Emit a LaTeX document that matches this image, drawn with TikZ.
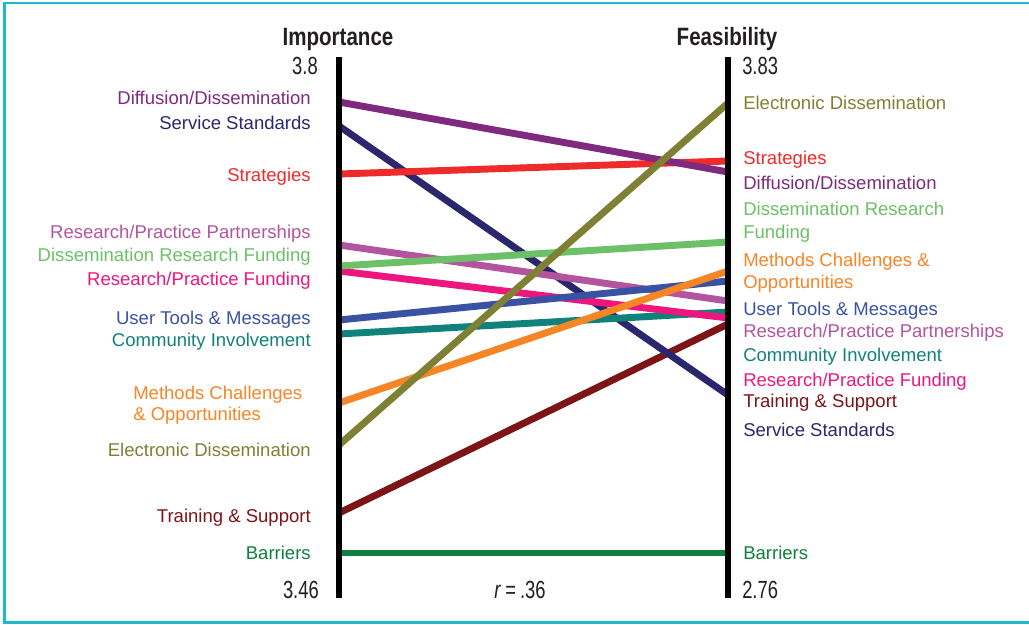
\documentclass[tikz,border=0pt]{standalone}
\usepackage{fontspec}
\setmainfont{Liberation Sans}
\newfontfamily\condfont[FakeStretch=0.82]{Liberation Sans}
\newfontfamily\numfont[FakeStretch=0.74]{Liberation Sans}
\definecolor{cDiff}{HTML}{7D2A7F}
\definecolor{cServ}{HTML}{2A276E}
\definecolor{cStrat}{HTML}{EE2B2A}
\definecolor{cRPP}{HTML}{B5549E}
\definecolor{cDRF}{HTML}{6CC067}
\definecolor{cRPF}{HTML}{ED167F}
\definecolor{cUser}{HTML}{3A52A3}
\definecolor{cComm}{HTML}{10827B}
\definecolor{cMeth}{HTML}{F68526}
\definecolor{cElec}{HTML}{7E8033}
\definecolor{cTrain}{HTML}{7D1416}
\definecolor{cBarr}{HTML}{10803F}
\definecolor{cFrame}{HTML}{1CB9D1}
\definecolor{cNum}{HTML}{231F20}
\tikzset{
  lbl/.style={inner sep=0pt, font=\fontsize{13.9}{16}\selectfont},
  lleft/.style={lbl, anchor=base east},
  lright/.style={lbl, anchor=base west},
  num/.style={inner sep=0pt, text=cNum, font=\numfont\fontsize{18.6}{20}\selectfont},
  ttl/.style={inner sep=0pt, anchor=base, text=cNum, font=\condfont\bfseries\fontsize{18.8}{22}\selectfont},
  series/.style={line width=5.2pt, line cap=butt},
  axisline/.style={line width=5.1pt, black, line cap=butt},
}
\begin{document}
\begin{tikzpicture}[x=0.75pt, y=-0.75pt]
\useasboundingbox (0,0) rectangle (1029,625);
% frame
\coordinate (fTR) at (1029,3);
\coordinate (fTL) at (4.5,3);
\coordinate (fBL) at (4.5,622.5);
\coordinate (fBR) at (1029,622.5);
\draw[cFrame, line width=1.9pt] (fTR) -- (fTL) -- (fBL) -- (fBR);

% axis ends
\coordinate (LA1) at (339,57);
\coordinate (LA2) at (339,598);
\coordinate (RA1) at (728,57);
\coordinate (RA2) at (728,598);

% series endpoints
\coordinate (LDiff) at (339,102);  \coordinate (RDiff) at (728,172);
\coordinate (LServ) at (339,126);  \coordinate (RServ) at (728,395);
\coordinate (LStrat) at (339,174); \coordinate (RStrat) at (728,161);
\coordinate (LRPP) at (339,245);   \coordinate (RRPP) at (728,301);
\coordinate (LDRF) at (339,266);   \coordinate (RDRF) at (728,242);
\coordinate (LRPF) at (339,271);   \coordinate (RRPF) at (728,318);
\coordinate (LUser) at (339,320);  \coordinate (RUser) at (728,281);
\coordinate (LComm) at (339,334);  \coordinate (RComm) at (728,312);
\coordinate (LMeth) at (339,403);  \coordinate (RMeth) at (728,271);
\coordinate (LElec) at (339,445);  \coordinate (RElec) at (728,103);
\coordinate (LTrain) at (339,513); \coordinate (RTrain) at (728,324);
\coordinate (LBarr) at (339,553);  \coordinate (RBarr) at (728,553);

\draw[series, cBarr] (LBarr) -- (RBarr);
\draw[series, cTrain] (LTrain) -- (RTrain);
\draw[series, cServ] (LServ) -- (RServ);
\draw[series, cComm] (LComm) -- (RComm);
\draw[series, cRPF] (LRPF) -- (RRPF);
\draw[series, cRPP] (LRPP) -- (RRPP);
\draw[series, cUser] (LUser) -- (RUser);
\draw[series, cDRF] (LDRF) -- (RDRF);
\draw[series, cMeth] (LMeth) -- (RMeth);
\draw[series, cStrat] (LStrat) -- (RStrat);
\draw[series, cDiff] (LDiff) -- (RDiff);
\draw[series, cElec] (LElec) -- (RElec);

% axes
\draw[axisline] (LA1) -- (LA2);
\draw[axisline] (RA1) -- (RA2);

% titles and scale values
\node[ttl] (tImp) at (338,45) {Importance};
\node[ttl] (tFea) at (727,45) {Feasibility};
\node[num, anchor=base east] (nL1) at (318,74) {3.8};
\node[num, anchor=base east] (nL2) at (319,598) {3.46};
\node[num, anchor=base west] (nR1) at (742,74) {3.83};
\node[num, anchor=base west] (nR2) at (742,598) {2.76};
\node[num, anchor=base] (rval) at (520,598) {\textit{r}\,=\,.36};

% left labels
\node[lleft, text=cDiff] (lDiff) at (311,104) {Diffusion/Dissemination};
\node[lleft, text=cServ] (lServ) at (311,129) {Service Standards};
\node[lleft, text=cStrat] (lStrat) at (311,181) {Strategies};
\node[lleft, text=cRPP] (lRPP) at (311,238) {Research/Practice Partnerships};
\node[lleft, text=cDRF] (lDRF) at (311,261) {Dissemination Research Funding};
\node[lleft, text=cRPF] (lRPF) at (311,285) {Research/Practice Funding};
\node[lleft, text=cUser] (lUser) at (311,324) {User Tools \& Messages};
\node[lleft, text=cComm] (lComm) at (311,346) {Community Involvement};
\node[lbl, anchor=base west, text=cMeth] (lMeth1) at (133,399) {Methods Challenges};
\node[lbl, anchor=base west, text=cMeth] (lMeth2) at (133,420) {\& Opportunities};
\node[lleft, text=cElec] (lElec) at (311,456) {Electronic Dissemination};
\node[lleft, text=cTrain] (lTrain) at (311,522) {Training \& Support};
\node[lleft, text=cBarr] (lBarr) at (311,559) {Barriers};

% right labels
\node[lright, text=cElec] (rElec) at (743,109) {Electronic Dissemination};
\node[lright, text=cStrat] (rStrat) at (743,164) {Strategies};
\node[lright, text=cDiff] (rDiff) at (743,189) {Diffusion/Dissemination};
\node[lright, text=cDRF] (rDRF1) at (743,215) {Dissemination Research};
\node[lright, text=cDRF] (rDRF2) at (743,238) {Funding};
\node[lright, text=cMeth] (rMeth1) at (743,266) {Methods Challenges \&};
\node[lright, text=cMeth] (rMeth2) at (743,288) {Opportunities};
\node[lright, text=cUser] (rUser) at (743,315) {User Tools \& Messages};
\node[lright, text=cRPP] (rRPP) at (743,337) {Research/Practice Partnerships};
\node[lright, text=cComm] (rComm) at (743,361) {Community Involvement};
\node[lright, text=cRPF] (rRPF) at (743,386) {Research/Practice Funding};
\node[lright, text=cTrain] (rTrain) at (743,407) {Training \& Support};
\node[lright, text=cServ] (rServ) at (743,436) {Service Standards};
\node[lright, text=cBarr] (rBarr) at (743,559) {Barriers};
\end{tikzpicture}
\end{document}
